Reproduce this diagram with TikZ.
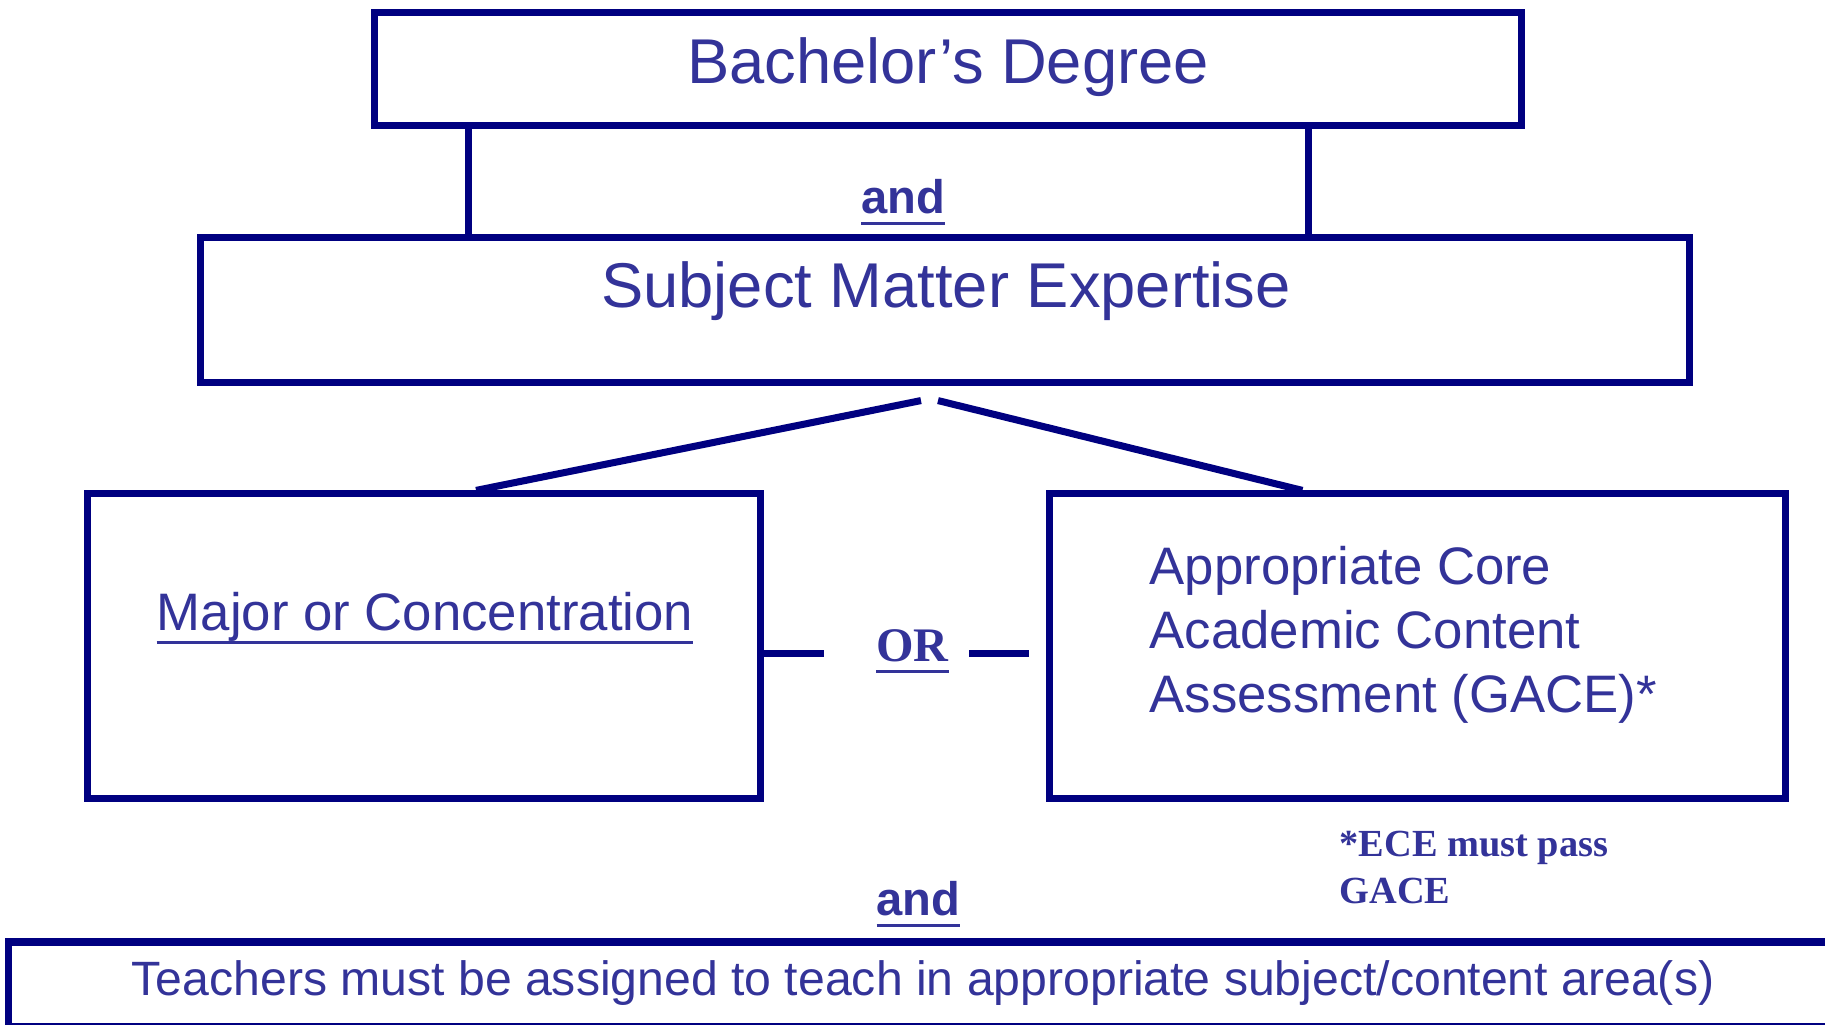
\documentclass[tikz,border=0pt]{standalone}
\usepackage{fontspec}
\setmainfont{Liberation Sans}
\newfontfamily\notefont{Liberation Serif}
\usepackage{tikz}

\definecolor{boxnavy}{RGB}{0,0,128}
\definecolor{textblue}{RGB}{51,51,153}

% underline with a given depth below the baseline
\newsavebox{\ulbox}
\newcommand{\ulword}[2][2.6pt]{\sbox{\ulbox}{#2}\rlap{\rule[\dimexpr-#1-0.9pt\relax]{\wd\ulbox}{0.9pt}}\usebox{\ulbox}}

\begin{document}
\begin{tikzpicture}[
    x=0.01cm, y=-0.01cm,
    box/.style={rectangle, draw=boxnavy, line width=2pt, inner sep=0pt},
    link/.style={draw=boxnavy, line width=2pt},
    title/.style={text=textblue, font=\fontsize{18}{21}\selectfont, anchor=base, inner sep=0pt},
    option/.style={text=textblue, font=\fontsize{15}{18.1}\selectfont, inner sep=0pt},
    joiner/.style={text=textblue, font=\bfseries\fontsize{13.4}{16}\selectfont, anchor=base, inner sep=0pt},
    note/.style={text=textblue, font=\notefont\bfseries\fontsize{10.9}{13.1}\selectfont, align=left, inner sep=0pt},
  ]
  \useasboundingbox (0,0) rectangle (1825,1024);
  \clip (0,0) rectangle (1825,1024);

  %% --- Requirement boxes ---
  \node[box, minimum width=11.46cm, minimum height=1.12cm] (bach) at (948,69) {};
  \node[title] (bachtext) at (948,83) {Bachelor’s Degree};

  \node[box, minimum width=14.88cm, minimum height=1.44cm] (sme) at (945,310) {};
  \node[title] (smetext) at (946,307) {Subject Matter Expertise};

  % the two ways to show expertise
  \node[box, minimum width=6.72cm, minimum height=3.04cm] (major) at (424,646) {};
  \node[option, anchor=base] (majortext) at (425,630) {\ulword[3.1pt]{Major or Concentration}};

  \node[box, minimum width=7.35cm, minimum height=3.04cm] (gace) at (1417.5,646) {};
  % base of a multi-line node is its last line
  \node[option, align=left, anchor=base west] (gacetext) at (1149,712)
    {Appropriate Core\\Academic Content\\Assessment (GACE)*};

  % assignment box, runs off the page
  \node[box, minimum width=18.41cm, minimum height=0.84cm] (assign) at (929.5,984) {};
  \node[option, anchor=base, font=\fontsize{13.7}{16}\selectfont] (assigntext) at (923,995)
    {Teachers must be assigned to teach in appropriate subject/content area(s)};

  %% --- Joining words ---
  \node[joiner] (and1) at (903,213) {\ulword{and}};
  \node[joiner] (and2) at (918.5,915) {\ulword{and}};
  \node[joiner, font=\notefont\bfseries\fontsize{13.7}{16}\selectfont] (ornode) at (912.5,661) {\ulword{OR}};
  \node[note, anchor=base west] (ecenote) at (1339,903) {*ECE must pass\\GACE};

  %% --- Connectors ---
  \draw[link] ([xshift=0.97cm]bach.south west) -- ([xshift=0.97cm]bach.south west |- sme.north);
  \draw[link] ([xshift=-2.16cm]bach.south east) -- ([xshift=-2.16cm]bach.south east |- sme.north);

  \draw[link] ([xshift=-0.24cm, yshift=-0.15cm]sme.south) -- ([xshift=0.52cm]major.north);
  \draw[link] ([xshift=-0.07cm, yshift=-0.15cm]sme.south) -- ([xshift=-1.15cm]gace.north);

  \draw[link, shorten >=0.52cm] ([yshift=-0.07cm]major.east) -- ([yshift=-0.07cm]major.east -| ornode.west);
  \draw[link, shorten <=0.2cm, shorten >=0.17cm] ([yshift=-0.07cm]gace.west -| ornode.east) -- ([yshift=-0.07cm]gace.west);
\end{tikzpicture}
\end{document}
